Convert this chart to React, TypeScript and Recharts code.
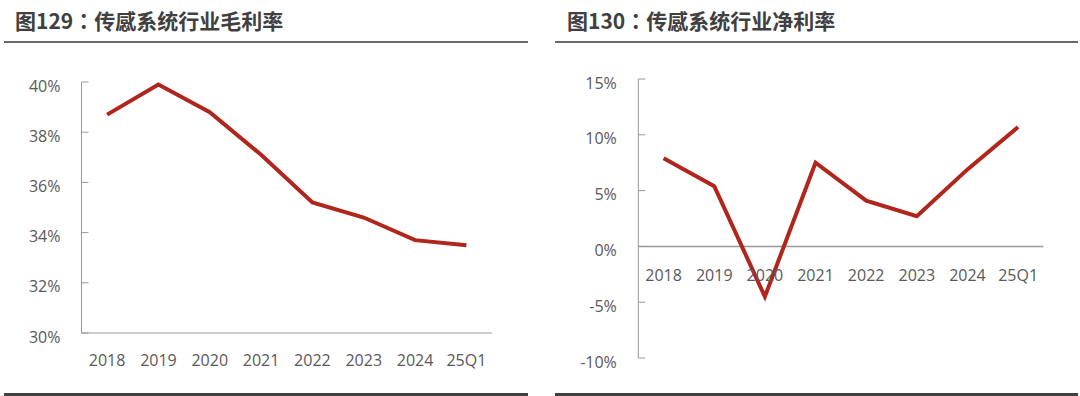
import React from 'react';
import { LineChart, Line, XAxis, YAxis, ReferenceLine } from 'recharts';

const categories = ['2018', '2019', '2020', '2021', '2022', '2023', '2024', '25Q1'];
const grossMargin = [38.7, 39.9, 38.8, 37.1, 35.2, 34.6, 33.7, 33.5];
const netMargin = [7.9, 5.4, -4.5, 7.5, 4.1, 2.7, 6.9, 10.7];
const grossTicks = [30, 32, 34, 36, 38, 40];
const netTicks = [-10, -5, 0, 5, 10, 15];

const grossData = categories.map((name, i) => ({ name, value: grossMargin[i] }));
const netData = categories.map((name, i) => ({ name, value: netMargin[i] }));

const LINE = '#B0261C';
const AXIS = '#999999';
const TEXT = '#595959';
const FONT = '"Open Sans", "Noto Sans CJK SC", sans-serif';

// right chart plot geometry, used to lift the x labels up to the zero line
const NET_TOP = 79;
const NET_BOTTOM = 38;
const NET_H = 396;
const netPlotH = NET_H - NET_TOP - NET_BOTTOM;
const zeroLift = (netPlotH * (0 - netTicks[0])) / (netTicks[netTicks.length - 1] - netTicks[0]);

const NetXTick = (props: any) => {
  const { x, y, payload } = props;
  return (
    <text x={x} y={y - zeroLift + 23} dy="0.71em" textAnchor="middle" fill={TEXT} fontSize={16} fontFamily={FONT}>
      {payload.value}
    </text>
  );
};

const Title: React.FC<{ text: string; left: number; ruleLeft: number; ruleRight: number }> = ({ text, left, ruleLeft, ruleRight }) => (
  <>
    <div
      style={{
        position: 'absolute',
        left,
        top: 5,
        fontFamily: '"Noto Sans CJK TC", sans-serif',
        fontWeight: 700,
        fontSize: 21,
        lineHeight: '30px',
        color: '#404040',
        whiteSpace: 'nowrap',
      }}
    >
      {text}
    </div>
    <div style={{ position: 'absolute', left: ruleLeft, width: ruleRight - ruleLeft, top: 41, height: 2, background: '#686868' }} />
    <div style={{ position: 'absolute', left: ruleLeft, width: ruleRight - ruleLeft, top: 393, height: 3, background: '#404040' }} />
  </>
);

export default function App() {
  const tickStyle = { fill: TEXT, fontSize: 16, fontFamily: FONT, dy: 4 };
  return (
    <div style={{ position: 'absolute', left: 0, top: 0, width: 1080, height: 396, background: '#fff', overflow: 'hidden' }}>
      <Title text="图129：传感系统行业毛利率" left={15} ruleLeft={4} ruleRight={528} />
      <Title text="图130：传感系统行业净利率" left={567} ruleLeft={555} ruleRight={1078} />

      <div style={{ position: 'absolute', left: 0, top: 0 }}>
        <LineChart width={540} height={396} data={grossData} margin={{ top: 82, right: 48, bottom: 23, left: 0 }}>
          <XAxis
            dataKey="name"
            stroke={AXIS}
            tickLine={false}
            tickSize={0}
            tickMargin={22}
            height={40}
            interval={0}
            padding={{ left: 25.6, right: 25.6 }}
            tick={{ fill: TEXT, fontSize: 16, fontFamily: FONT }}
          />
          <YAxis
            domain={[30, 40]}
            ticks={grossTicks}
            width={81.5}
            stroke={AXIS}
            tickSize={-7}
            tickMargin={28}
            tickFormatter={(v) => `${v}%`}
            tick={tickStyle}
            interval={0}
          />
          <Line type="linear" dataKey="value" stroke={LINE} strokeWidth={4} dot={false} isAnimationActive={false} />
        </LineChart>
      </div>

      <div style={{ position: 'absolute', left: 540, top: 0 }}>
        <LineChart width={540} height={NET_H} data={netData} margin={{ top: NET_TOP, right: 36.6, bottom: NET_BOTTOM - 1, left: 0 }}>
          <XAxis
            dataKey="name"
            axisLine={false}
            tickLine={false}
            tickSize={0}
            tickMargin={0}
            height={1}
            interval={0}
            padding={{ left: 25.3, right: 25.3 }}
            tick={(p: any) => <NetXTick {...p} />}
          />
          <YAxis
            domain={[-10, 15]}
            ticks={netTicks}
            width={98.3}
            stroke={AXIS}
            tickSize={-7}
            tickMargin={28.5}
            tickFormatter={(v) => `${v}%`}
            tick={tickStyle}
            interval={0}
          />
          <ReferenceLine y={0} stroke={AXIS} strokeWidth={1.5} />
          <Line type="linear" dataKey="value" stroke={LINE} strokeWidth={4} dot={false} isAnimationActive={false} />
        </LineChart>
      </div>
    </div>
  );
}
